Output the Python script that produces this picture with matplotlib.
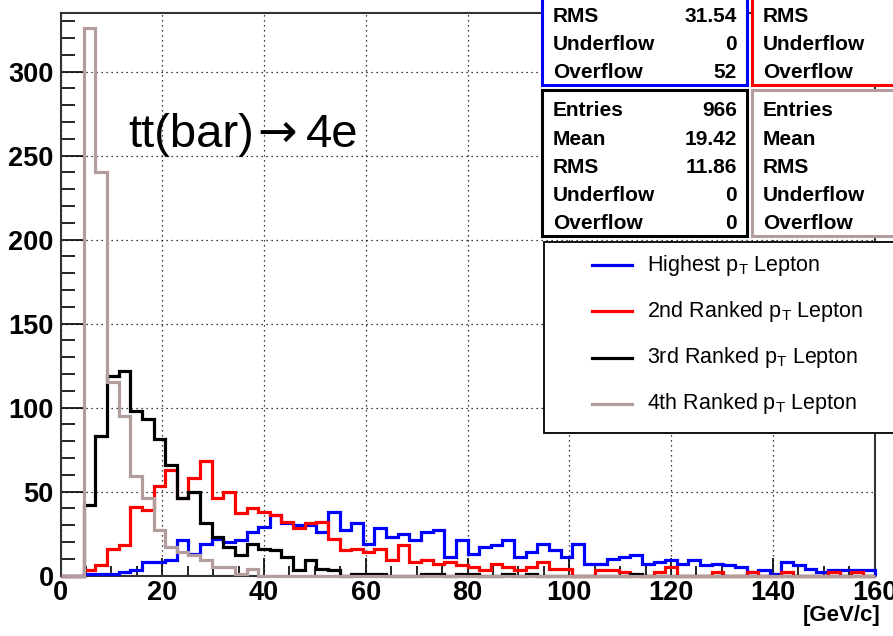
import numpy as np
import matplotlib
matplotlib.use("Agg")
import matplotlib.pyplot as plt
from matplotlib.patches import Rectangle
from matplotlib.lines import Line2D
from matplotlib.ticker import MultipleLocator

plt.rcParams['font.family'] = ['Liberation Sans', 'DejaVu Sans']

# ---- data (70 bins from 0 to 160 GeV/c) ----
x_min, x_max, n_bins = 0, 160, 70
highest = [0, 0, 1, 1, 1, 2, 3, 8, 8, 9,
           21, 13, 19, 22, 20, 21, 26, 29, 36, 31,
           30, 30, 26, 38, 27, 31, 19, 28, 23, 25,
           21, 26, 27, 11, 21, 13, 17, 18, 21, 11,
           14, 19, 15, 11, 19, 7, 7, 10, 11, 12,
           7, 8, 9, 7, 9, 6, 7, 6, 5, 2,
           3, 1, 8, 6, 4, 2, 3, 3, 3, 3]
second = [0, 0, 3, 6, 16, 18, 41, 39, 53, 63,
          46, 58, 68, 46, 50, 37, 40, 38, 36, 32,
          28, 31, 32, 22, 15, 16, 14, 16, 9, 18,
          8, 9, 7, 8, 6, 5, 3, 7, 5, 3,
          5, 8, 4, 4, 0, 0, 3, 3, 2, 0,
          0, 2, 5, 0, 0, 0, 2, 0, 0, 2,
          0, 0, 2, 0, 0, 0, 2, 0, 2, 0]
third = [0, 0, 42, 83, 119, 122, 98, 93, 81, 66,
         46, 50, 31, 23, 17, 12, 19, 16, 15, 11,
         3, 9, 4, 3, 0, 1, 1, 1, 0, 0,
         0, 1, 1, 0, 1, 1, 0, 0, 1, 0,
         1, 0, 0, 0, 0, 0, 0, 0, 0, 1,
         0, 0, 0, 0, 0, 0, 0, 0, 0, 0,
         0, 0, 0, 0, 0, 0, 0, 0, 0, 0]
fourth = [0, 0, 326, 240, 115, 95, 59, 46, 27, 17,
          14, 12, 9, 5, 5, 1, 4, 0, 0, 0,
          0, 0, 0, 0, 0, 0, 0, 0, 0, 0,
          0, 0, 0, 0, 0, 0, 0, 0, 0, 0,
          0, 0, 0, 0, 0, 0, 0, 0, 0, 0,
          0, 0, 0, 0, 0, 0, 0, 0, 0, 0,
          0, 0, 0, 0, 0, 0, 0, 0, 0, 0]
labels = ["Highest p$_{\\mathregular{T}}$ Lepton",
          "2nd Ranked p$_{\\mathregular{T}}$ Lepton",
          "3rd Ranked p$_{\\mathregular{T}}$ Lepton",
          "4th Ranked p$_{\\mathregular{T}}$ Lepton"]
colors = ["#0000ff", "#ff0000", "#000000", "#b39c9c"]
stat_names = ["Entries", "Mean", "RMS", "Underflow", "Overflow"]
stats_highest = ["966", "43.87", "31.54", "0", "52"]
stats_second = ["966", "33.05", "20.37", "0", "3"]
stats_third = ["966", "19.42", "11.86", "0", "0"]
stats_fourth = ["966", "10.31", "6.012", "0", "0"]
x_title = "[GeV/c]"
note_parts = ["tt(bar)", "\u2192", "4e"]

W, H = 893, 636
fig = plt.figure(figsize=(W / 100, H / 100), dpi=100)
fig.patch.set_facecolor("white")

def fx(px):
    return px / W

def fy(py):
    return 1 - py / H

L, R, T, B = 60.5, 874.5, 12.7, 575.5
ax = fig.add_axes([fx(L), fy(B), (R - L) / W, (B - T) / H])
ax.set_xlim(x_min, x_max)
ax.set_ylim(0, 335)

edges = np.linspace(x_min, x_max, n_bins + 1)
for vals, c in zip([highest, second, third, fourth], colors):
    ax.stairs(vals, edges, color=c, linewidth=2.3, baseline=0, clip_on=False, zorder=3)

ax.xaxis.set_major_locator(MultipleLocator(20))
ax.xaxis.set_minor_locator(MultipleLocator(5))
ax.yaxis.set_major_locator(MultipleLocator(50))
ax.yaxis.set_minor_locator(MultipleLocator(10))
ax.grid(True, which="major", color="black", linestyle=(0, (1, 3)), linewidth=0.9)
ax.tick_params(axis="both", which="both", direction="in", top=False, right=False,
               width=1.2, labelsize=19.5)
ax.tick_params(axis="x", which="major", length=13, pad=3)
ax.tick_params(axis="x", which="minor", length=7)
ax.tick_params(axis="y", which="major", length=18, pad=5)
ax.tick_params(axis="y", which="minor", length=10)
for lab in ax.get_xticklabels() + ax.get_yticklabels():
    lab.set_fontweight("bold")
for s in ax.spines.values():
    s.set_linewidth(1.5)
    s.set_color("#333333")

fig.text(fx(880), fy(615), x_title, ha="right", va="center", fontsize=16, fontweight="bold")

# note text: three pieces so the arrow is full size
fig.text(fx(128), fy(147), note_parts[0], ha="left", va="baseline", fontsize=34, zorder=6)
fig.text(fx(257), fy(147), note_parts[1], ha="left", va="baseline", fontsize=34,
         family="DejaVu Sans", zorder=6)
fig.text(fx(306), fy(147), note_parts[2], ha="left", va="baseline", fontsize=34, zorder=6)

# ---- stats boxes ----
def stats_box(x0, y0, w, h, color, values):
    fig.add_artist(Rectangle((fx(x0), fy(y0 + h)), w / W, h / H, transform=fig.transFigure,
                             facecolor="white", edgecolor=color, linewidth=2.2, zorder=10))
    for i, (n, v) in enumerate(zip(stat_names, values)):
        yy = y0 + 21 + i * 28.2
        fig.text(fx(x0 + 11), fy(yy), n, ha="left", va="center", fontsize=15,
                 fontweight="bold", zorder=11)
        fig.text(fx(x0 + w - 10), fy(yy), v, ha="right", va="center", fontsize=15,
                 fontweight="bold", zorder=11)

stats_box(542, -61, 205, 146, colors[0], stats_highest)
stats_box(752, -61, 205, 146, colors[1], stats_second)
stats_box(542, 90, 205, 146, colors[2], stats_third)
stats_box(752, 90, 205, 146, colors[3], stats_fourth)

# ---- legend ----
fig.add_artist(Rectangle((fx(544), fy(433)), 400 / W, (433 - 242) / H, transform=fig.transFigure,
                         facecolor="white", edgecolor="black", linewidth=1.3, zorder=10))
for i, (lab, c) in enumerate(zip(labels, colors)):
    yy = 265 + i * 46.3
    fig.add_artist(Line2D([fx(592), fx(632)], [fy(yy), fy(yy)], transform=fig.transFigure,
                          color=c, linewidth=2.3, zorder=11))
    fig.text(fx(647), fy(yy), lab, ha="left", va="center", fontsize=15.5, zorder=11)

fig.savefig("out.png", dpi=100)
